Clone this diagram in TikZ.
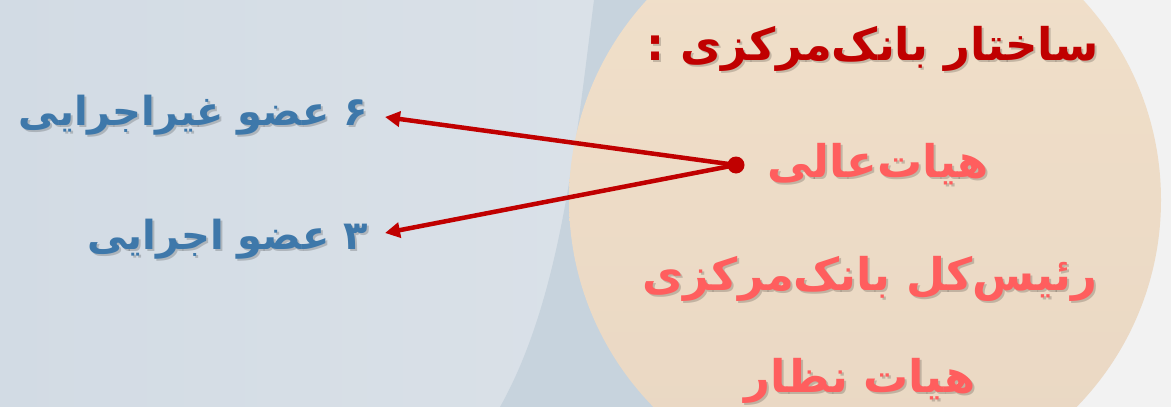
\documentclass[tikz,border=0pt]{standalone}
\usepackage{fontspec}
\TeXXeTstate=1
\newfontfamily\fa[Script=Arabic]{DejaVu Sans}
\usetikzlibrary{arrows.meta}
\definecolor{bgA}{HTML}{D2DBE4}
\definecolor{bgB}{HTML}{E2E7EC}
\definecolor{stripe}{HTML}{C7D3DD}
\definecolor{rgray}{HTML}{F2F2F2}
\definecolor{blobA}{HTML}{F1E0CA}
\definecolor{blobB}{HTML}{E9D7C3}
\definecolor{darkred}{HTML}{C00000}
\definecolor{salmon}{HTML}{FF5E5E}
\definecolor{steel}{HTML}{3E78AA}
\tikzset{
  big/.style={font=\fa\bfseries\fontsize{45}{50}\selectfont, inner sep=0pt},
  title/.style={big, text=darkred},
  item/.style={big, text=salmon},
  member/.style={font=\fa\bfseries\fontsize{40}{44}\selectfont, text=steel, inner sep=0pt},
  shadow/.style={text=black, text opacity=0.18},
  conn/.style={draw=darkred, line width=4.5pt, -{Triangle[length=15pt,width=15pt]}},
}
\begin{document}
\begin{tikzpicture}[x=1pt,y=-1pt]
\useasboundingbox (0,0) rectangle (1171,407);
% background
\shade[left color=bgA, right color=bgB] (0,0) rectangle (1171,407);
\fill[rgray] (640,0) rectangle (1171,407);
\fill[stripe] (594,0) -- (660,0) -- (700,407) -- (500,407) .. controls (560,300) and (575,150) .. (594,0) -- cycle;
\shade[top color=blobA, bottom color=blobB] (865,200) circle (296);
% text shadows
\node[title, shadow] (ts) at (875,51) {\beginR ساختار بانک‌مرکزی :\endR};
\node[item, shadow] (hs) at (880,166) {\beginR هیات‌عالی\endR};
\node[item, shadow] (rs) at (872,281) {\beginR رئیس‌کل بانک‌مرکزی\endR};
\node[item, shadow] (ns) at (862,383) {\beginR هیات نظار\endR};
\node[member, shadow, anchor=east] (m6s) at (370,117) {\beginR ۶ عضو غیراجرایی\endR};
\node[member, shadow, anchor=east] (m3s) at (370,241) {\beginR ۳ عضو اجرایی\endR};
% texts
\node[title] (t) at (873,49) {\beginR ساختار بانک‌مرکزی :\endR};
\node[item] (h) at (878,164) {\beginR هیات‌عالی\endR};
\node[item] (r) at (870,279) {\beginR رئیس‌کل بانک‌مرکزی\endR};
\node[item] (n) at (860,381) {\beginR هیات نظار\endR};
\node[member, anchor=east] (m6) at (368,115) {\beginR ۶ عضو غیراجرایی\endR};
\node[member, anchor=east] (m3) at (368,239) {\beginR ۳ عضو اجرایی\endR};
% connectors
\node[circle, fill=darkred, inner sep=0pt, minimum size=17pt] (d) at (736,165) {};
\draw[conn] (d.center) -- ([xshift=17pt,yshift=-2pt]m6.east);
\draw[conn] (d.center) -- ([xshift=17pt,yshift=6pt]m3.east);
\end{tikzpicture}
\end{document}
